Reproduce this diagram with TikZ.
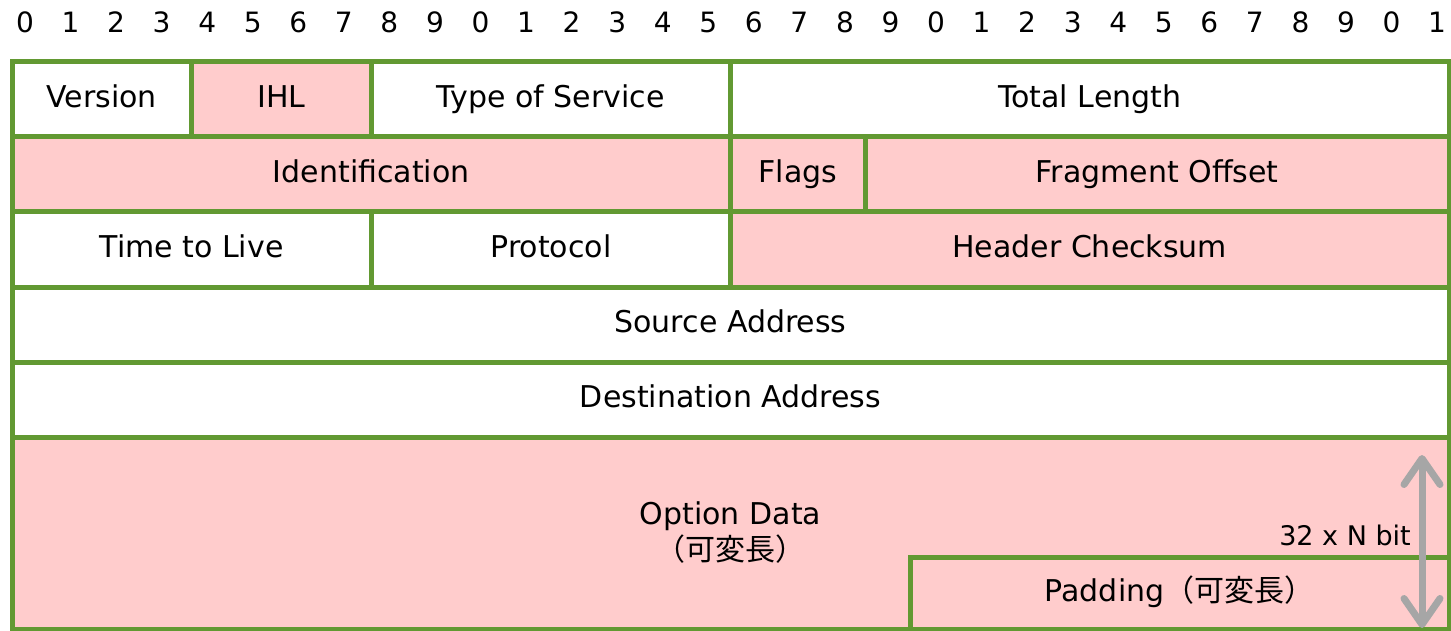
\documentclass[tikz,border=0pt]{standalone}
\usepackage{fontspec}
\setmainfont{DejaVu Sans}
\newfontfamily\jp{Noto Sans CJK JP}
\usetikzlibrary{arrows.meta}
\definecolor{framegreen}{RGB}{98,153,50}
\definecolor{fieldpink}{RGB}{255,204,204}
\definecolor{arrowgray}{RGB}{166,166,166}
\begin{document}
\begin{tikzpicture}[x=1pt,y=-1pt,
  field/.style={draw=framegreen, line width=5pt, fill=white, inner sep=0pt, outer sep=0pt,
    anchor=north west, minimum height=75pt, text height=23pt, text depth=7pt,
    font=\fontsize{30}{36}\selectfont},
  pinkfield/.style={field, fill=fieldpink},
  bitnum/.style={inner sep=0pt, font=\fontsize{28}{32}\selectfont}]
\useasboundingbox (0,0) rectangle (1451,631);
\pgfmathsetmacro{\bw}{1437/32}
% bit ruler
\foreach \i in {0,...,31}{
  \pgfmathtruncatemacro{\d}{mod(\i,10)}
  \node[bitnum] (d\i) at ({25+45.55*\i},22) {\d};
}
% row 1
\node[field, minimum width={4*\bw}] (ver) at (12,62) {Version};
\node[pinkfield, minimum width={4*\bw}] (ihl) at ({12+4*\bw},62) {IHL};
\node[field, minimum width={8*\bw}] (tos) at ({12+8*\bw},62) {Type of Service};
\node[field, minimum width={16*\bw}] (len) at ({12+16*\bw},62) {Total Length};
% row 2
\node[pinkfield, minimum width={16*\bw}] (ident) at (12,137) {Identification};
\node[pinkfield, minimum width={3*\bw}] (flags) at ({12+16*\bw},137) {Flags};
\node[pinkfield, minimum width={13*\bw}] (frag) at ({12+19*\bw},137) {Fragment Offset};
% row 3
\node[field, minimum width={8*\bw}] (ttl) at (12,212) {Time to Live};
\node[field, minimum width={8*\bw}] (proto) at ({12+8*\bw},212) {Protocol};
\node[pinkfield, minimum width={16*\bw}] (csum) at ({12+16*\bw},212) {Header Checksum};
% rows 4 and 5
\node[field, minimum width={32*\bw}] (src) at (12,287) {Source Address};
\node[field, minimum width={32*\bw}] (dst) at (12,362) {Destination Address};
% options and padding
\node[pinkfield, minimum width={32*\bw}, minimum height=192pt, align=center,
  text height=, text depth=,
  font=\fontsize{30}{38}\selectfont] (opt) at (12,437) {Option Data\\[-2pt]{\jp （可変長）}};
\node[pinkfield, minimum width={12*\bw}, minimum height=72pt] (pad) at ({12+20*\bw},557)
  {Padding{\jp （可変長）}};
% length marker
\coordinate (atop) at (1422,455);
\coordinate (abot) at (1422,628);
\draw[arrowgray, line width=7pt,
  {Straight Barb[length=26pt,width=36pt,round]}-{Straight Barb[length=26pt,width=36pt,round]}]
  (atop) -- (abot);
\node[inner sep=0pt, anchor=east, font=\fontsize{27}{32}\selectfont] (nbit) at (1411,535) {32 x N bit};
\end{tikzpicture}
\end{document}
